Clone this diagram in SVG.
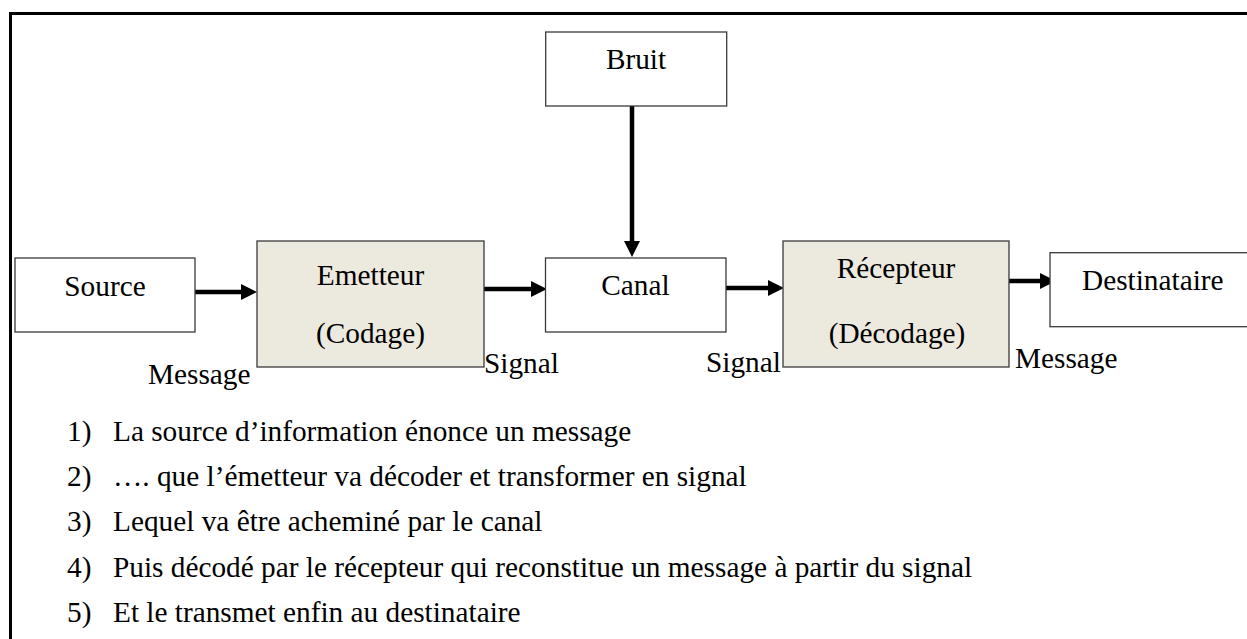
<svg xmlns="http://www.w3.org/2000/svg" width="1247" height="639" viewBox="0 0 1247 639">
  <style>
    .box { fill: #ffffff; stroke: #3a3a3a; stroke-width: 1.3; }
    .proc { fill: #ECE9DF; stroke: #3a3a3a; stroke-width: 1.3; }
    .t { font-family: "Liberation Serif", "Times New Roman", serif; font-size: 29.3px; fill: #000; }
    .c { text-anchor: middle; }
    .wire { stroke: #000; stroke-width: 4.5; fill: none; marker-end: url(#head); }
  </style>
  <defs>
    <marker id="head" viewBox="0 0 16 16" markerWidth="16" markerHeight="16" markerUnits="userSpaceOnUse" refX="0" refY="8" orient="auto">
      <path d="M0,0 L16,8 L0,16 Z" fill="#000"/>
    </marker>
  </defs>

  <rect width="1247" height="639" fill="#ffffff"/>

  <!-- outer frame, open on the right and bottom -->
  <path d="M10.5,645 V13.5 H1260" fill="none" stroke="#000" stroke-width="3"/>

  <!-- connectors -->
  <g id="connectors">
    <line class="wire" x1="195" y1="292" x2="241" y2="292"/>
    <line class="wire" x1="484" y1="289" x2="531" y2="289"/>
    <line class="wire" x1="723" y1="288" x2="768" y2="288"/>
    <line class="wire" x1="1007" y1="281" x2="1040" y2="281"/>
    <line class="wire" x1="632" y1="106" x2="632" y2="241"/>
  </g>

  <g id="bruit">
    <rect class="box" x="545.7" y="32" width="181" height="74"/>
    <text class="t c" x="636" y="69">Bruit</text>
  </g>

  <g id="source">
    <rect class="box" x="15" y="258" width="180" height="74"/>
    <text class="t c" x="105" y="296">Source</text>
  </g>

  <g id="emetteur">
    <rect class="proc" x="257" y="241" width="227" height="126"/>
    <text class="t c" x="370.5" y="285">Emetteur</text>
    <text class="t c" x="370.5" y="343">(Codage)</text>
  </g>

  <g id="canal">
    <rect class="box" x="545.5" y="258" width="180.5" height="74"/>
    <text class="t c" x="635.5" y="295">Canal</text>
  </g>

  <g id="recepteur">
    <rect class="proc" x="783" y="241" width="226" height="126"/>
    <text class="t c" x="896" y="278">Récepteur</text>
    <text class="t c" x="897" y="343">(Décodage)</text>
  </g>

  <g id="destinataire">
    <rect class="box" x="1050" y="252.7" width="220" height="74"/>
    <text class="t" x="1082" y="290">Destinataire</text>
  </g>

  <!-- flow labels -->
  <g id="labels">
    <text class="t" x="148" y="384">Message</text>
    <text class="t" x="484" y="373">Signal</text>
    <text class="t" x="706" y="372">Signal</text>
    <text class="t" x="1015" y="368">Message</text>
  </g>

  <!-- numbered steps -->
  <g id="steps" class="t">
    <text x="67" y="441">1)</text>
    <text x="113" y="441">La source d’information énonce un message</text>
    <text x="67" y="486">2)</text>
    <text x="113" y="486">…. que l’émetteur va décoder et transformer en signal</text>
    <text x="67" y="531">3)</text>
    <text x="113" y="531">Lequel va être acheminé par le canal</text>
    <text x="67" y="577">4)</text>
    <text x="113" y="577">Puis décodé par le récepteur qui reconstitue un message à partir du signal</text>
    <text x="67" y="622">5)</text>
    <text x="113" y="622">Et le transmet enfin au destinataire</text>
  </g>
</svg>
